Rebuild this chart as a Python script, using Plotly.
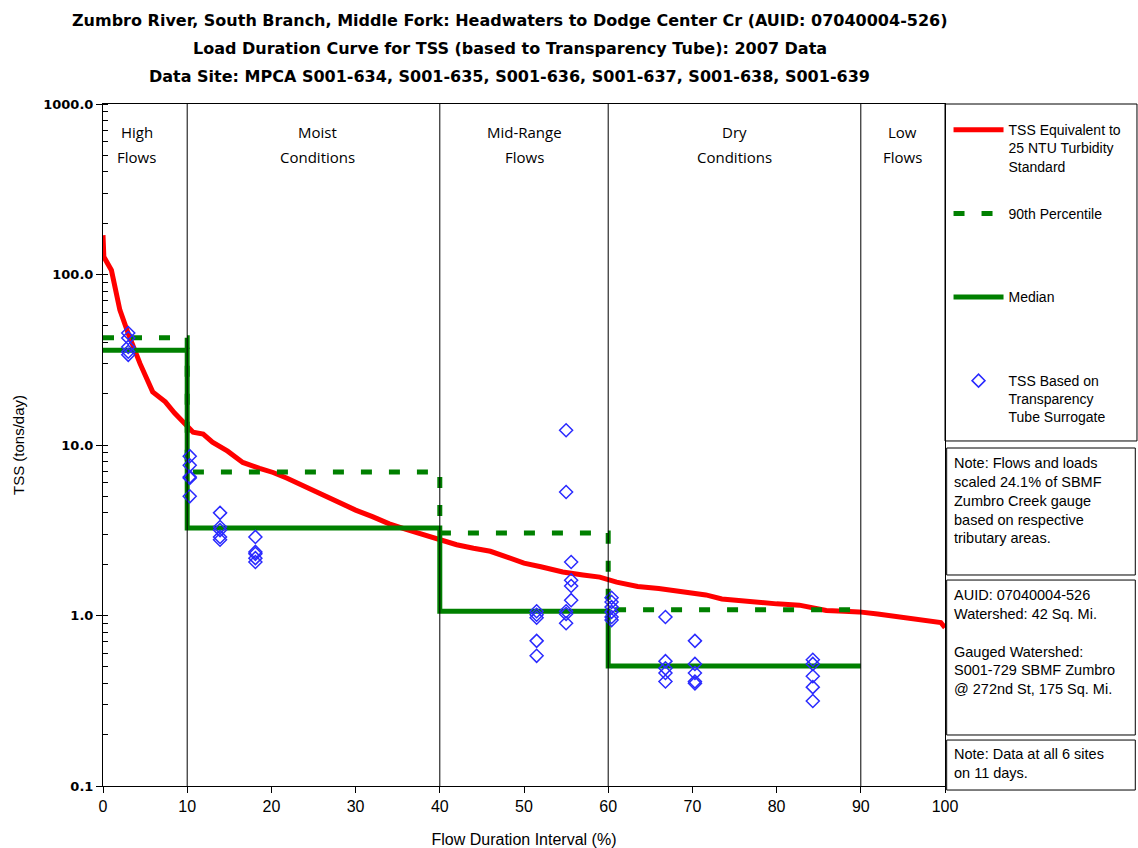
import plotly.graph_objects as go

# Load duration curve: TSS equivalent to the 25 NTU turbidity standard
fdi = [0, 0.1, 1, 2, 3, 4.4, 5.9, 7.4, 8.5, 9.7, 10.7, 11.9, 13, 14.8, 16.6, 18.6,
       20.2, 21.8, 24, 26, 28, 30, 32, 34, 36, 38, 40, 42, 44, 46, 48, 50, 52,
       54.6, 57, 59, 61, 63.5, 66, 68.8, 71.6, 73.5, 75.5, 77.6, 80, 82.7, 84,
       85.9, 88, 89.8, 92, 94.2, 96, 98, 99.5, 100]
standard_load = [170, 127, 106, 62, 45, 30, 20.5, 17.9, 15.4, 13.5, 11.9, 11.6,
                 10.4, 9.2, 7.9, 7.3, 6.9, 6.4, 5.7, 5.1, 4.6, 4.15, 3.8, 3.45,
                 3.2, 2.98, 2.77, 2.6, 2.48, 2.38, 2.2, 2.03, 1.93, 1.80, 1.73,
                 1.68, 1.57, 1.48, 1.44, 1.38, 1.32, 1.25, 1.22, 1.19, 1.17, 1.15,
                 1.11, 1.07, 1.06, 1.05, 1.02, 0.99, 0.97, 0.94, 0.91, 0.85]

# Flow zones and their summary statistics
zone_bounds = [0, 10, 40, 60, 90]
zone_p90 = [42.5, 6.95, 3.05, 1.08]
zone_median = [36, 3.26, 1.06, 0.506]

zone_label_x = [4, 25.5, 50, 75, 95]
zone_label_top = ["High", "Moist", "Mid-Range", "Dry", "Low"]
zone_label_bottom = ["Flows", "Conditions", "Flows", "Conditions", "Flows"]

# Transparency tube surrogate TSS samples
obs_fdi = ([3.0] * 5 + [10.3] * 5 + [13.9] * 5 + [18.1] * 5 + [51.5] * 5 +
           [55.0] * 5 + [55.6] * 4 + [60.4] * 6 + [66.8] * 5 + [70.3] * 5 +
           [84.3] * 5)
obs_tss = ([45.4, 42.4, 37.6, 35.2, 33.8] +
           [8.6, 7.6, 6.5, 6.4, 5.0] +
           [4.0, 3.3, 3.17, 2.89, 2.78] +
           [2.89, 2.36, 2.3, 2.17, 2.06] +
           [1.06, 1.01, 0.97, 0.71, 0.58] +
           [12.2, 5.3, 1.06, 1.02, 0.9] +
           [2.06, 1.61, 1.49, 1.23] +
           [1.27, 1.2, 1.12, 1.05, 0.98, 0.94] +
           [0.98, 0.54, 0.49, 0.46, 0.41] +
           [0.71, 0.52, 0.46, 0.41, 0.40] +
           [0.55, 0.52, 0.44, 0.38, 0.315])


def step_xy(bounds, values):
    xs, ys = [], []
    for i, v in enumerate(values):
        xs += [bounds[i], bounds[i + 1]]
        ys += [v, v]
    return xs, ys


p90_x, p90_y = step_xy(zone_bounds, zone_p90)
med_x, med_y = step_xy(zone_bounds, zone_median)

RED = "#ff0000"
GREEN = "#008000"
BLUE = "#2a2aff"

fig = go.Figure()

fig.add_trace(go.Scatter(
    x=fdi, y=standard_load, mode="lines",
    name="TSS Equivalent to<br>25 NTU Turbidity<br>Standard",
    line=dict(color=RED, width=5), legendgroup="a"))

fig.add_trace(go.Scatter(
    x=p90_x, y=p90_y, mode="lines", name="90th Percentile<br> <br> ",
    line=dict(color=GREEN, width=5, dash="11px,17px"), legendgroup="b"))

fig.add_trace(go.Scatter(
    x=med_x, y=med_y, mode="lines", name="Median<br> <br> ",
    line=dict(color=GREEN, width=5), legendgroup="c"))

fig.add_trace(go.Scatter(
    x=obs_fdi, y=obs_tss, mode="markers",
    name="TSS Based on<br>Transparency<br>Tube Surrogate",
    marker=dict(symbol="diamond-open", size=10, color=BLUE,
                line=dict(width=1.5, color=BLUE)), legendgroup="d"))

# Zone boundaries
for xb in zone_bounds[1:]:
    fig.add_shape(type="line", xref="x", yref="paper", x0=xb, x1=xb,
                  y0=0, y1=1, line=dict(color="black", width=1))

# Zone labels (two lines each)
for xl, top, bottom in zip(zone_label_x, zone_label_top, zone_label_bottom):
    for txt, py in ((top, 132), (bottom, 157)):
        fig.add_annotation(x=xl, y=(786 - py) / 682, xref="x", yref="paper",
                           text=txt, showarrow=False, align="center",
                           yanchor="middle",
                           font=dict(family="Open Sans", size=15,
                                     color="black"))

# Legend frame and note boxes (paper coordinates to the right of the plot)
boxes = [(1.0, 1.228, 0.5059, 1.0),
         (1.002, 1.226, 0.3094, 0.4956),
         (1.002, 1.226, 0.0748, 0.302),
         (1.002, 1.226, -0.0059, 0.0674)]
for x0, x1, y0, y1 in boxes:
    fig.add_shape(type="rect", xref="paper", yref="paper", x0=x0, x1=x1,
                  y0=y0, y1=y1, line=dict(color="black", width=1))

notes = [
    ("Note: Flows and loads<br>scaled 24.1% of SBMF<br>Zumbro Creek gauge<br>"
     "based on respective<br>tributary areas.", 0.488),
    ("AUID: 07040004-526<br>Watershed: 42 Sq. Mi.<br><br>Gauged Watershed:<br>"
     "S001-729 SBMF Zumbro<br>@ 272nd St, 175 Sq. Mi.", 0.295),
    ("Note: Data at all 6 sites<br>on 11 days.", 0.061),
]
for txt, yy in notes:
    fig.add_annotation(x=1.008, y=yy, xref="paper", yref="paper", text=txt,
                       showarrow=False, align="left", xanchor="left",
                       yanchor="top",
                       font=dict(family="Liberation Sans", size=14.5,
                                 color="black"))

title_lines = [
    ("Zumbro River, South Branch, Middle Fork: Headwaters to Dodge Center Cr "
     "(AUID: 07040004-526)", 20),
    ("Load Duration Curve for TSS (based to Transparency Tube): 2007 Data", 48),
    ("Data Site: MPCA S001-634, S001-635, S001-636, S001-637, S001-638, "
     "S001-639", 76),
]
for txt, py in title_lines:
    fig.add_annotation(x=0.483, y=(786 - py) / 682, xref="paper", yref="paper",
                       text="<b>" + txt + "</b>", showarrow=False,
                       xanchor="center", yanchor="middle",
                       font=dict(family="DejaVu Sans", size=16, color="black"))

fig.update_layout(
    width=1138, height=848,
    margin=dict(l=103, r=192, t=104, b=62),
    paper_bgcolor="white", plot_bgcolor="white",
    showlegend=True,
    legend=dict(x=1.003, y=0.985, xanchor="left", yanchor="top",
                traceorder="grouped", tracegroupgap=26, valign="top",
                itemwidth=50, bgcolor="rgba(0,0,0,0)",
                font=dict(family="Liberation Sans", size=14, color="black")),
    xaxis=dict(range=[0, 100], dtick=10, ticks="outside", ticklen=6,
               tickcolor="black", showgrid=False, zeroline=False,
               automargin=False,
               showline=True, linecolor="black", linewidth=1, mirror=True,
               tickfont=dict(family="Liberation Sans Narrow, Liberation Sans",
                             size=16, color="black"),
               title=dict(text="Flow Duration Interval (%)", standoff=20,
                          font=dict(family="Liberation Sans", size=16,
                                    color="black"))),
    yaxis=dict(type="log", range=[-1, 3],
               tickvals=[0.1, 1, 10, 100, 1000],
               ticktext=["0.1", "1.0", "10.0", "100.0", "1000.0"],
               ticks="outside", ticklen=6, tickcolor="black",
               minor=dict(ticks="inside", ticklen=5, tickcolor="black",
                          dtick="D1", showgrid=False),
               showgrid=False, zeroline=False, automargin=False,
               showline=True, linecolor="black", linewidth=1, mirror=True,
               tickfont=dict(family="DejaVu Sans", size=13, color="black",
                             weight="bold"),
               title=dict(text="TSS (tons/day)", standoff=14,
                          font=dict(family="Liberation Sans", size=15,
                                    color="black"))),
)

fig.write_html("out.html")
